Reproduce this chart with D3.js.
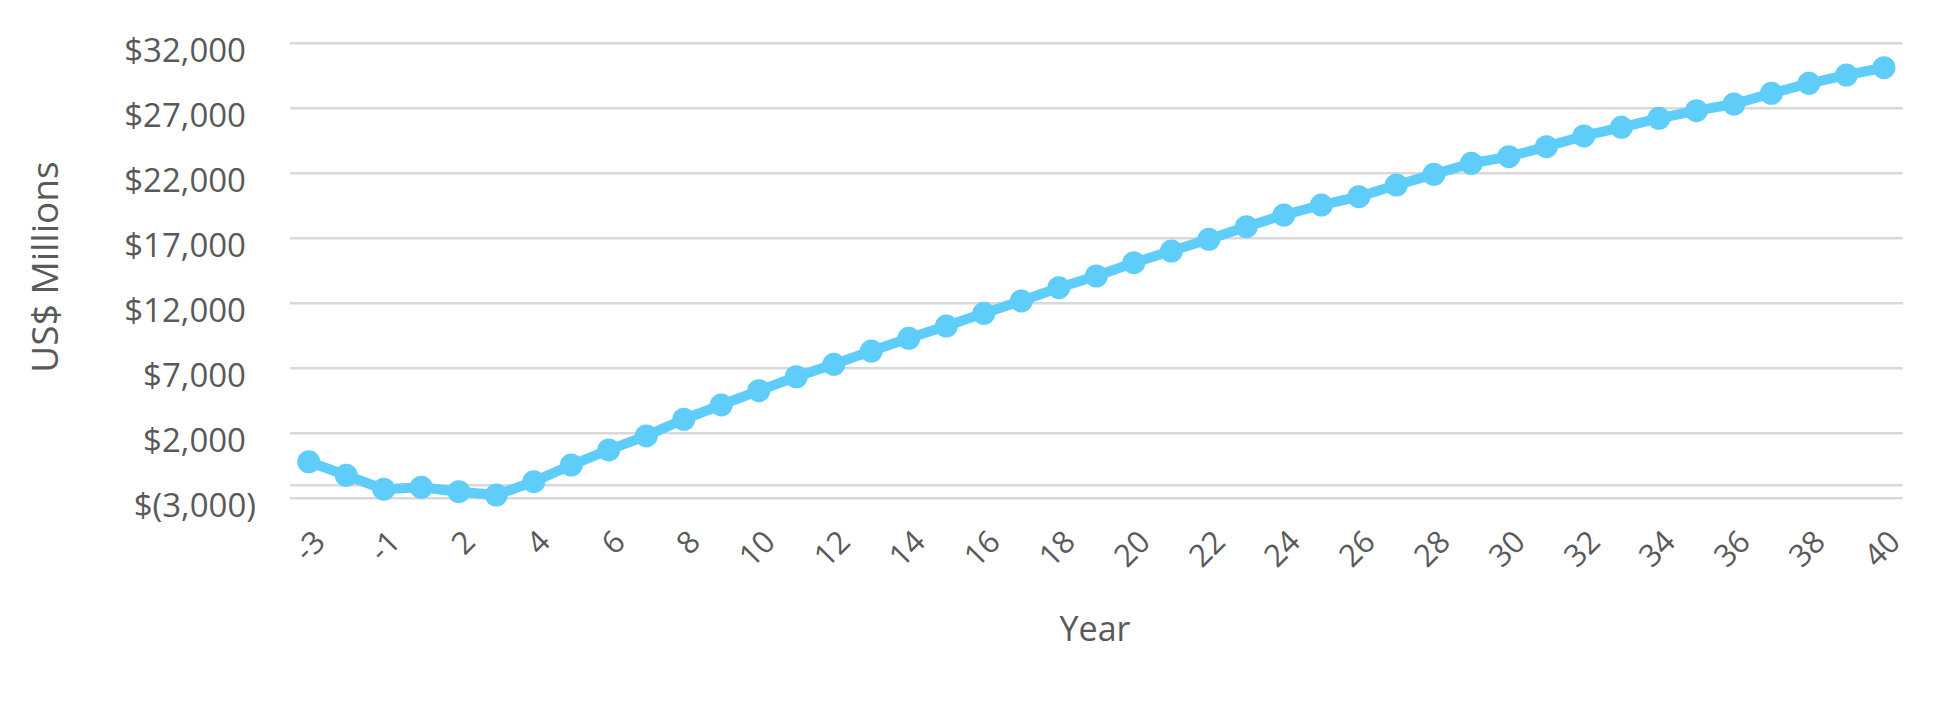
<!DOCTYPE html>
<html>
<head>
<meta charset="utf-8">
<script src="https://cdn.jsdelivr.net/npm/d3@7"></script>
<style>
  html, body { margin: 0; padding: 0; background: #fff; }
  svg { display: block; }
  text { font-family: "Open Sans", "Noto Sans", sans-serif; fill: #595959; }
</style>
</head>
<body>
<svg id="chart" width="1950" height="707"></svg>
<script>
// ---- data ----
const categories = ["-3","-2","-1","1","2","3","4","5","6","7","8","9","10","11","12","13","14","15","16","17","18","19","20","21","22","23","24","25","26","27","28","29","30","31","32","33","34","35","36","37","38","39","40"];
const values = [-190,-1230,-2300,-2150,-2490,-2750,-1720,-440,720,1800,3080,4180,5280,6350,7310,8330,9310,10250,11230,12180,13200,14100,15120,16020,16920,17890,18790,19560,20200,21100,21920,22770,23280,24050,24870,25540,26230,26820,27330,28150,28920,29560,30120];
const yTicks = [-3000, 2000, 7000, 12000, 17000, 22000, 27000, 32000];
const xTickLabels = ["-3","-1","2","4","6","8","10","12","14","16","18","20","22","24","26","28","30","32","34","36","38","40"];
const axisCrossValue = -2000;
const yTitle = "US$ Millions";
const xTitle = "Year";

// ---- layout ----
const plot = { left: 290, right: 1902.7, top: 43.3, bottom: 498.3 };
const svg = d3.select("#chart");

const x = d3.scalePoint().domain(categories).range([plot.left, plot.right]).padding(0.5);
const y = d3.scaleLinear().domain([-3000, 32000]).range([plot.bottom, plot.top]);

const fmt = v => v < 0 ? "$(" + d3.format(",")(-v) + ")" : "$" + d3.format(",")(v);

// gridlines
svg.append("g").selectAll("line").data(yTicks.concat([axisCrossValue])).join("line")
  .attr("x1", plot.left).attr("x2", plot.right)
  .attr("y1", d => y(d)).attr("y2", d => y(d))
  .attr("stroke", "#D9D9D9").attr("stroke-width", 2.5);

// y axis labels
const yAxis = d3.axisLeft(y).tickValues(yTicks).tickFormat(fmt).tickSize(0).tickPadding(0);
const gy = svg.append("g").attr("transform", "translate(256,0)").call(yAxis);
gy.select(".domain").remove();
gy.selectAll("text")
  .style("font-size", "33px").attr("fill", "#595959")
  .attr("font-family", "Open Sans")
  .attr("dy", "0.55em")
  .attr("x", d => d < 0 ? 0 : -10);

// x axis labels
const xAxis = d3.axisBottom(x).tickValues(xTickLabels).tickSize(0).tickPadding(0);
const gx = svg.append("g").attr("transform", "translate(0,536)").call(xAxis);
gx.select(".domain").remove();
gx.selectAll("text")
  .style("font-size", "31px").attr("fill", "#595959")
  .attr("font-family", "Open Sans")
  .attr("text-anchor", "end")
  .attr("y", 0).attr("dy", "0.35em")
  .attr("transform", "translate(10,0) rotate(-45)");

// titles
svg.append("text").attr("x", 1095).attr("y", 641)
  .attr("text-anchor", "middle").style("font-size", "34px").text(xTitle);
svg.append("text").attr("transform", "translate(58,267) rotate(-90)")
  .attr("text-anchor", "middle").style("font-size", "37px").text(yTitle);

// series
const data = categories.map((c, i) => ({ c, v: values[i] }));
const color = "#5FCDF9";
svg.append("path").datum(data)
  .attr("fill", "none").attr("stroke", color).attr("stroke-width", 10)
  .attr("stroke-linejoin", "round")
  .attr("d", d3.line().x(d => x(d.c)).y(d => y(d.v)));
svg.append("g").selectAll("circle").data(data).join("circle")
  .attr("cx", d => x(d.c)).attr("cy", d => y(d.v)).attr("r", 11.5)
  .attr("fill", color);
</script>
</body>
</html>
